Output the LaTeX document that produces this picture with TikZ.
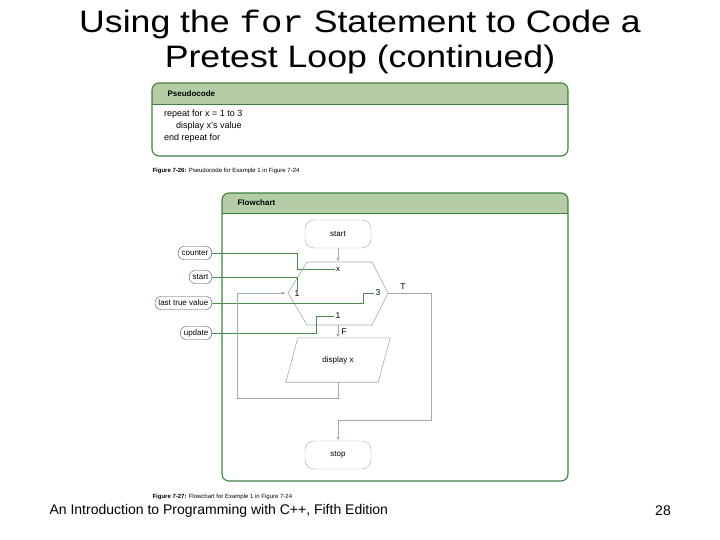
\documentclass[tikz,border=0pt]{standalone}
\usepackage{fontspec}
\setmainfont{Liberation Sans}
\setmonofont{Liberation Mono}
\usetikzlibrary{arrows.meta,positioning}
\definecolor{frameGreen}{HTML}{3F7F3F}
\definecolor{headGreen}{HTML}{B4CDA6}
\definecolor{flowGreen}{HTML}{9AB09A}
\definecolor{feedGreen}{HTML}{4A8A4A}
\definecolor{shapeGray}{HTML}{A8A8A8}
\newcommand{\szfont}[1]{\fontsize{#1}{#1}\selectfont}
\begin{document}
\begin{tikzpicture}[x=1pt,y=-1pt,every node/.style={font=\szfont{8}},
  term/.style={draw=shapeGray,rounded corners=9pt,minimum width=66pt,minimum height=28pt},
  tag/.style={draw=feedGreen!70!black,rounded corners=6pt,minimum height=13pt,inner xsep=3.5pt,inner ysep=1pt,anchor=east},
  feed/.style={draw=feedGreen,line width=0.7pt},
  flow/.style={draw=flowGreen,line width=0.8pt},
  tip/.style={-{Latex[length=4pt,width=3pt,fill=feedGreen]}},
  panel/.style={draw=frameGreen,line width=1.1pt,rounded corners=7pt}]
\useasboundingbox (0,0) rectangle (720,540);
% title
\node[align=center,xscale=1.15,font=\fontsize{31}{35}\selectfont] (title) at (360,42) {Using the \texttt{for} Statement to Code a\\Pretest Loop (continued)};
% pseudocode panel
\begin{scope}
\clip[rounded corners=7pt] (152,83) rectangle (568,156);
\fill[headGreen] (152,83) rectangle (568,104);
\end{scope}
\draw[panel] (152,83) rectangle (568,156);
\draw[frameGreen,line width=0.9pt] (152,104) -- (568,104);
\node[anchor=west,font=\bfseries\szfont{8}] (pshead) at (164,93.5) {Pseudocode};
\node[anchor=north west,align=left,inner sep=0pt,font=\fontsize{9}{12}\selectfont] (pscode) at (164,110) {repeat for x = 1 to 3\\\hspace{12pt}display x's value\\end repeat for};
\node[anchor=west,font=\szfont{6}] (pscap) at (149,171) {\textbf{Figure 7-26:} Pseudocode for Example 1 in Figure 7-24};
% flowchart panel
\begin{scope}
\clip[rounded corners=7pt] (222,193) rectangle (568,481);
\fill[headGreen] (222,193) rectangle (568,213);
\end{scope}
\draw[panel] (222,193) rectangle (568,481);
\draw[frameGreen,line width=0.9pt] (222,213) -- (568,213);
\node[anchor=west,font=\bfseries\szfont{8}] (fchead) at (234,203) {Flowchart};
\node[anchor=west,font=\szfont{6}] (fccap) at (149,497) {\textbf{Figure 7-27:} Flowchart for Example 1 in Figure 7-24};
% terminals
\node[term] (start) at (338,234) {start};
\node[term] (stop) at (338,455) {stop};
% loop hexagon
\coordinate (hexT) at (338,262);
\coordinate (hexB) at (338,325);
\coordinate (hexL) at (288,293);
\coordinate (hexR) at (388,293);
\draw[shapeGray,line width=0.6pt] (307,262) -- (372,262) -- (hexR) -- (372,325) -- (307,325) -- (hexL) -- cycle;
\node[inner sep=1pt] (hx) at (338,269) {x};
\node[inner sep=1pt,font=\szfont{8.5}] (hone) at (297,294) {1};
\node[inner sep=1pt,font=\szfont{8.5}] (hthree) at (378,293) {3};
\node[inner sep=1pt,font=\szfont{8.5}] (hupd) at (338,316) {1};
% display x
\node[minimum width=92pt,minimum height=44pt] (disp) at (338,360) {display x};
\draw[shapeGray,line width=0.6pt] ([xshift=6pt]disp.north west) -- ([xshift=6pt]disp.north east) -- ([xshift=-6pt]disp.south east) -- ([xshift=-6pt]disp.south west) -- cycle;
% loop parts
\node[tag] (counter) at (212,253) {counter};
\node[tag] (tagstart) at (212,277) {start};
\node[tag] (lastval) at (212,303) {last true value};
\node[tag] (update) at (212,333) {update};
\draw[feed] (counter.east) -| ([xshift=-41pt]hx.center) -- (hx.west);
\draw[feed] (tagstart.east) -| (hone.north);
\draw[feed] (lastval.east) -| ([xshift=-15pt]hthree.center) -- (hthree.west);
\draw[feed] (update.east) -| ([xshift=-22pt]hupd.center) -- (hupd.west);
% flow lines
\draw[flow,tip] (start) -- (hexT);
\draw[flow,tip] (hexB) -- node[right,font=\szfont{8.5}] {F} (disp.north);
\draw[flow,tip] (hexR) -- node[above,pos=0.35,font=\szfont{8.5}] {T} ([xshift=43pt]hexR) -- ++(0,127) -| (stop.north);
\draw[flow,tip] (disp.south) -- ++(0,16) -| ([xshift=-51pt]hexL) -- ([xshift=-2pt]hexL);
% footer
\node[anchor=west,font=\szfont{14}] (foot) at (46,511) {An Introduction to Programming with C++, Fifth Edition};
\node[font=\szfont{14}] (page) at (663,511) {28};
\end{tikzpicture}
\end{document}
